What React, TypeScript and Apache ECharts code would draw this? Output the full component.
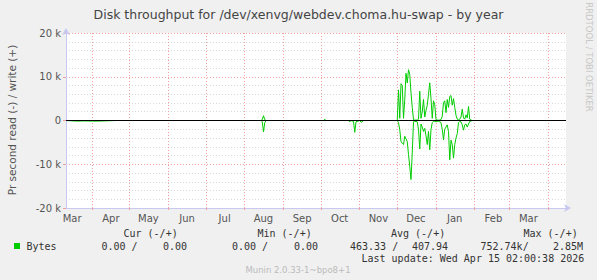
import React, { useEffect, useRef } from 'react';
import * as echarts from 'echarts';

const TITLE = 'Disk throughput for /dev/xenvg/webdev.choma.hu-swap - by year';
const Y_TITLE = 'Pr second read (-) / write (+)';
const SIDE_TEXT = 'RRDTOOL / TOBI OETIKER';
const FOOTER = 'Munin 2.0.33-1~bpo8+1';
const LAST_UPDATE = 'Last update: Wed Apr 15 02:00:38 2026';

const START = Date.UTC(2025, 2, 11, 2, 0, 38);
const END = Date.UTC(2026, 3, 15, 2, 0, 38);
const DAY = 86400000;

const monthStarts = [
  '2025-04-01', '2025-05-01', '2025-06-01', '2025-07-01', '2025-08-01', '2025-09-01',
  '2025-10-01', '2025-11-01', '2025-12-01', '2026-01-01', '2026-02-01', '2026-03-01', '2026-04-01',
];
const monthLabelDates = [
  '2025-03-16', '2025-04-16', '2025-05-16', '2025-06-16', '2025-07-16', '2025-08-16', '2025-09-16',
  '2025-10-16', '2025-11-16', '2025-12-16', '2026-01-16', '2026-02-16', '2026-03-16',
];
const monthNames = ['Jan', 'Feb', 'Mar', 'Apr', 'May', 'Jun', 'Jul', 'Aug', 'Sep', 'Oct', 'Nov', 'Dec'];

const yTickValues = [-20000, -10000, 0, 10000, 20000];
const yTickLabels = ['-20 k', '-10 k', '0', '10 k', '20 k'];

// day offsets from START
const dayOffsets = [
  0, 9, 14, 25, 40, 156, 157, 158, 159, 160, 206, 207, 208, 226, 227, 228, 230, 231, 232, 235, 236, 237, 238,
  264, 265, 266, 267, 268, 269, 270, 271, 272, 273, 274, 275, 276, 277, 278, 279, 280, 281, 282, 283, 284, 285,
  286, 287, 288, 289, 290, 291, 292, 293, 294, 295, 296, 297, 298, 299, 300, 301, 302, 303, 304, 305, 306, 307,
  308, 309, 310, 311, 312, 313, 314, 315, 316, 317, 318, 319, 320, 321, 322, 323, 324, 325,
  330, 400,
];
// write (+), in thousands of bytes/s
const writeK = [
  0, 0, 0, 0, 0, 0, 0.2, 1.1, 0.2, 0, 0, 0.3, 0, 0, 0, 0, 0, 0, 0, 0, 0, 0, 0,
  0, 0, 7.0, 0.5, 8.4, 8.0, 0.5, 4.8, 10.8, 8.6, 11.6, 10.5, 6.3, 3.0, 0.2, 0.1, 0.1, 0.1, 0.3, 6.7, 0.5, 2.0,
  4.8, 0.8, 2.3, 3.5, 6.0, 8.6, 5.0, 0.5, 4.5, 3.6, 0.2, 0.1, 0.1, 0.1, 0.2, 1.0, 4.1, 4.5, 1.8, 4.8, 3.0, 5.5,
  5.7, 3.5, 5.0, 3.0, 1.2, 0.3, 0.2, 0.3, 0.8, 2.6, 0.6, 0.3, 1.3, 0.6, 3.2, 0.3, 0.1, 0,
  0, 0,
];
// read (-), in thousands of bytes/s
const readK = [
  0, -0.15, -0.1, -0.15, 0, 0, -0.3, -2.6, -0.5, 0, 0, 0, 0, 0, -0.3, 0, -0.2, -2.7, -0.3, 0, -0.4, -0.3, 0,
  0, 0, -0.5, -2.1, -4.8, -5.2, -5.5, -3.6, -4.2, -4.8, -7.8, -10.5, -13.5, -7.4, -0.3, -0.2, -0.2, -0.3, -2.0, -6.5, -0.8, -1.5,
  -2.5, -1.8, -3.5, -5.5, -2.5, -6.7, -2.0, -0.5, -0.2, -0.2, -0.3, -0.2, -0.2, -0.3, -0.5, -2.0, -4.4, -2.0, -1.5, -1.0, -2.5, -9.0,
  -4.5, -5.5, -8.6, -5.5, -4.0, -3.0, -0.5, -0.2, -0.3, -1.0, -2.2, -1.0, -0.8, -1.5, -0.8, -0.2, -0.1, 0,
  0, 0,
];

const legendHeaders = ['Cur (-/+)', 'Min (-/+)', 'Avg (-/+)', 'Max (-/+)'];
const legendName = 'Bytes';
const legendValues = ['0.00 /', '0.00', '0.00 /', '0.00', '463.33 /', '407.94', '752.74k/', '2.85M'];

const headerX = [123.5, 257.5, 391, 523.5];
const valueX = [101.5, 163, 232, 294, 350, 412, 480.5, 553];

const SANS = 'DejaVu Sans';
const MONO = 'DejaVu Sans Mono';

export default function App() {
  const ref = useRef<HTMLDivElement>(null);
  useEffect(() => {
    document.body.style.margin = '0';
    if (!ref.current) return;
    const chart = echarts.init(ref.current, undefined, { renderer: 'svg' });
    const writeData = dayOffsets.map((d, i) => [START + d * DAY, writeK[i] * 1000]);
    const readData = dayOffsets.map((d, i) => [START + d * DAY, readK[i] * 1000]);
    const tickTimes = monthStarts.map((s) => Date.parse(s));
    const labelTimes = monthLabelDates.map((s) => Date.parse(s));

    const graphics: any[] = [
      {
        type: 'text', x: 298.5, y: 14,
        style: { text: TITLE, fill: '#444', font: `12.5px "${SANS}"`, textAlign: 'center', textVerticalAlign: 'middle' },
      },
      {
        type: 'text', x: 11.5, y: 120, rotation: Math.PI / 2,
        style: { text: Y_TITLE, fill: '#555', font: `10.5px "${SANS}"`, textAlign: 'center', textVerticalAlign: 'middle' },
      },
      {
        type: 'text', x: 588.5, y: 57, rotation: -Math.PI / 2,
        style: { text: SIDE_TEXT, fill: '#c8c8c8', font: `8.5px "${SANS}"`, textAlign: 'center', textVerticalAlign: 'middle' },
      },
      {
        type: 'rect', shape: { x: 14, y: 243, width: 6, height: 6 },
        style: { fill: '#00CC00' },
      },
      {
        type: 'text', x: 26.5, y: 246,
        style: { text: legendName, fill: '#333', font: `10px "${MONO}"`, textAlign: 'left', textVerticalAlign: 'middle' },
      },
      {
        type: 'text', x: 361.5, y: 258,
        style: { text: LAST_UPDATE, fill: '#333', font: `10px "${MONO}"`, textAlign: 'left', textVerticalAlign: 'middle' },
      },
      {
        type: 'text', x: 298, y: 270,
        style: { text: FOOTER, fill: '#bbb', font: `8.5px "${SANS}"`, textAlign: 'center', textVerticalAlign: 'middle' },
      },
    ];
    legendHeaders.forEach((h, i) => {
      graphics.push({
        type: 'text', x: headerX[i], y: 233.5,
        style: { text: h, fill: '#333', font: `10px "${MONO}"`, textAlign: 'left', textVerticalAlign: 'middle' },
      });
    });
    legendValues.forEach((v, i) => {
      graphics.push({
        type: 'text', x: valueX[i], y: 246,
        style: { text: v, fill: '#333', font: `10px "${MONO}"`, textAlign: 'left', textVerticalAlign: 'middle' },
      });
    });

    chart.setOption({
      animation: false,
      backgroundColor: '#F0F0F0',
      grid: {
        left: 66, right: 31, top: 33, bottom: 72,
        show: true, backgroundColor: '#FFFFFF', borderWidth: 0,
        containLabel: false, outerBoundsMode: 'none',
      },
      xAxis: {
        type: 'value', min: START, max: END,
        axisLine: {
          show: true, onZero: false, lineStyle: { color: '#C8C8F0', width: 1 },
          symbol: ['none', 'arrow'], symbolSize: [6, 7], symbolOffset: [0, 5],
        },
        axisTick: { show: true, customValues: tickTimes, length: 2, inside: false, lineStyle: { color: '#F0A0A0' } },
        axisLabel: {
          show: true, customValues: labelTimes, margin: 5, color: '#555',
          fontFamily: SANS, fontSize: 10,
          formatter: (v: number) => monthNames[new Date(v).getUTCMonth()],
        },
        splitLine: { show: true, lineStyle: { color: '#F2A0A0', type: [1, 2], width: 1 } },
      },
      yAxis: {
        type: 'value', min: -20000, max: 20000, interval: 10000,
        axisLine: {
          show: true, onZero: false, lineStyle: { color: '#C8C8F0', width: 1 },
          symbol: ['none', 'arrow'], symbolSize: [6, 7], symbolOffset: [0, 5],
        },
        axisTick: { show: true, length: 3, lineStyle: { color: '#F0A0A0' } },
        axisLabel: {
          margin: 5, color: '#555', fontFamily: SANS, fontSize: 10,
          formatter: (v: number) => {
            const i = yTickValues.indexOf(v);
            return i >= 0 ? yTickLabels[i] : '';
          },
        },
        splitLine: { show: true, lineStyle: { color: '#F2A0A0', type: [1, 2], width: 1 } },
        minorTick: { show: false, splitNumber: 5 },
        minorSplitLine: { show: true, lineStyle: { color: '#D8D8D8', type: [1, 2], width: 1 } },
      },
      graphic: graphics,
      series: [
        {
          name: 'read', type: 'line', data: readData, symbol: 'none',
          lineStyle: { color: '#00CC00', width: 1 }, itemStyle: { color: '#00CC00' }, silent: true,
        },
        {
          name: 'write', type: 'line', data: writeData, symbol: 'none',
          lineStyle: { color: '#00CC00', width: 1 }, itemStyle: { color: '#00CC00' }, silent: true,
          markLine: {
            silent: true, symbol: 'none', label: { show: false },
            lineStyle: { color: '#000', width: 1.2, type: 'solid' },
            data: [{ yAxis: 0 }],
          },
        },
      ],
    });
    return () => chart.dispose();
  }, []);
  return <div ref={ref} style={{ width: 597, height: 280 }} />;
}
